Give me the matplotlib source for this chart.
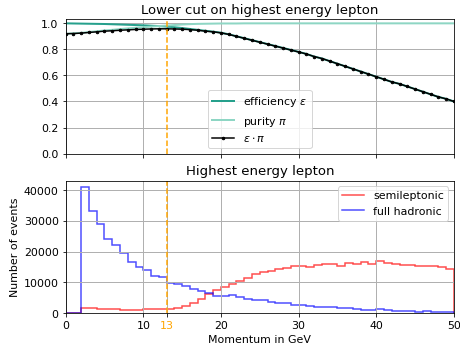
import numpy as np
import matplotlib
matplotlib.use('Agg')
import matplotlib.pyplot as plt

plt.rcParams['font.size'] = 11

# momentum bins (1 GeV wide) and cut values
edges = list(range(0, 51))
cuts = list(range(0, 51))
cut_value = 13

# histogram counts
semileptonic = [0, 0, 1700, 1600, 1500, 1400, 1300, 1200, 1200, 1200, 1300, 1300, 1400, 1500,
                1600, 2200, 3300, 4600, 6100, 7600, 8600, 9500, 10500, 11400, 12700, 13300,
                13800, 14300, 14800, 15300, 15200, 15000, 15600, 15900, 16000, 15300, 16300,
                16000, 16500, 16000, 16800, 16400, 16000, 15800, 15600, 15300, 15300, 15200,
                15000, 14500]
full_hadronic = [100, 200, 41000, 33300, 29000, 24200, 22000, 19700, 16700, 14900, 14000, 12100,
                 11600, 9800, 9500, 8700, 8000, 7200, 6500, 5700, 5500, 5800, 5200, 4500, 4400,
                 4200, 3800, 3400, 3200, 2800, 2700, 2300, 2100, 2000, 2000, 1800, 1600, 1500,
                 1200, 1100, 1300, 900, 800, 700, 700, 500, 600, 400, 500, 300]

# cut performance curves
efficiency = [1.0, 0.999, 0.998, 0.997, 0.996, 0.995, 0.993, 0.991, 0.989, 0.987, 0.985, 0.982,
              0.979, 0.975, 0.97, 0.964, 0.957, 0.95, 0.943, 0.936, 0.928, 0.916, 0.901, 0.886,
              0.871, 0.856, 0.841, 0.826, 0.811, 0.796, 0.781, 0.765, 0.745, 0.73, 0.71, 0.69,
              0.67, 0.65, 0.63, 0.61, 0.59, 0.57, 0.55, 0.535, 0.515, 0.495, 0.475, 0.455,
              0.435, 0.42, 0.40]
purity = [0.92, 0.923, 0.927, 0.933, 0.939, 0.945, 0.95, 0.956, 0.961, 0.966, 0.97, 0.975,
          0.979, 0.983, 0.987, 0.991, 0.994, 0.996, 0.997, 0.998, 0.999, 0.999, 0.999, 1.0,
          1.0, 1.0, 1.0, 1.0, 1.0, 1.0, 1.0, 1.0, 1.0, 1.0, 1.0, 1.0, 1.0, 1.0, 1.0, 1.0, 1.0,
          1.0, 1.0, 1.0, 1.0, 1.0, 1.0, 1.0, 1.0, 1.0, 1.0]
product = [0.92, 0.922, 0.925, 0.93, 0.935, 0.94, 0.943, 0.947, 0.95, 0.953, 0.955, 0.957,
           0.958, 0.958, 0.957, 0.955, 0.952, 0.947, 0.94, 0.935, 0.927, 0.915, 0.90, 0.885,
           0.87, 0.855, 0.84, 0.825, 0.81, 0.795, 0.78, 0.765, 0.745, 0.73, 0.71, 0.69, 0.67,
           0.65, 0.63, 0.61, 0.59, 0.57, 0.55, 0.535, 0.515, 0.495, 0.475, 0.455, 0.435, 0.42,
           0.40]

fig = plt.figure(figsize=(6.4, 4.8), dpi=72)
ax1 = fig.add_axes([0.1425, 0.554, 0.8425, 0.388])
ax2 = fig.add_axes([0.1425, 0.092, 0.8425, 0.383])

# top: cut performance
ax1.plot(cuts, efficiency, color='#26a08c', lw=2, label=r'efficiency $\varepsilon$')
ax1.plot(cuts, purity, color='#8ed6c4', lw=2, label=r'purity $\pi$')
ax1.plot(cuts, product, color='black', marker='.', ms=5, lw=1.5, label=r'$\varepsilon\cdot\pi$')
ax1.axvline(cut_value, color='orange', ls='--', lw=1.5)
ax1.set_xlim(0, 50)
ax1.set_ylim(0, 1.03)
ax1.set_yticks([0, 0.2, 0.4, 0.6, 0.8, 1.0])
ax1.set_xticks([0, 10, 20, 30, 40, 50])
ax1.set_xticklabels([])
ax1.grid(True, lw=1)
ax1.legend(loc='lower center')
ax1.set_title('Lower cut on highest energy lepton')

# bottom: momentum distributions
ax2.stairs(semileptonic, edges, color='red', alpha=0.7, lw=1.5, label='semileptonic')
ax2.stairs(full_hadronic, edges, color='blue', alpha=0.7, lw=1.5, label='full hadronic')
ax2.axvline(cut_value, color='orange', ls='--', lw=1.5)
ax2.set_xlim(0, 50)
ax2.set_ylim(0, 43000)
ax2.set_xticks([0, 10, 13, 20, 30, 40, 50])
ax2.get_xticklabels()[2].set_color('orange')
ax2.grid(True, lw=1)
ax2.legend(loc='upper right')
ax2.set_title('Highest energy lepton')
ax2.set_xlabel('Momentum in GeV')
ax2.set_ylabel('Number of events')

fig.savefig('out.png', dpi=72)
